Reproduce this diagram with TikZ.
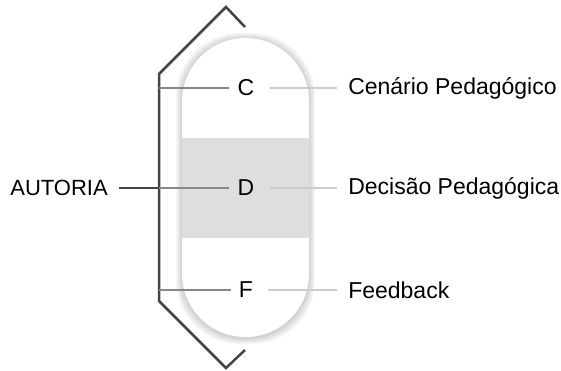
\documentclass[tikz,border=0pt]{standalone}
\usepackage{fontspec}
\setmainfont{Liberation Sans}
\definecolor{bracketgray}{HTML}{444444}
\definecolor{midgray}{HTML}{888888}
\definecolor{lightgray}{HTML}{CCCCCC}
\definecolor{bandgray}{HTML}{DEDEDE}

\begin{document}
\def\capr{63.5pt}

\begin{tikzpicture}[x=1pt,y=-1pt,line width=2.5pt]
    \tikzstyle{capsule}=[rounded corners=\capr]
    \tikzstyle{letter}=[inner xsep=7pt,inner ysep=2pt,font=\fontsize{23}{27}\selectfont]
    \tikzstyle{label}=[anchor=west,inner xsep=10pt,inner ysep=2pt,font=\fontsize{23}{27}\selectfont]
    \tikzstyle{bracket}=[draw=bracketgray,line join=miter]
    \tikzstyle{leftline}=[draw=midgray]
    \tikzstyle{rightline}=[draw=lightgray,shorten <=7pt]

    \useasboundingbox (0,0) rectangle (561,371);

    % soft shadow of the capsule
    \foreach \s in {1,...,6}
        \fill[black,opacity=0.03,capsule] (182-\s,38-\s+1) rectangle (309+\s,337+\s+1);
    % the capsule and its middle band
    \fill[white,capsule] (182,38) rectangle (309,337);
    \fill[bandgray] (182,138) rectangle (309,238);

    % the bracket
    \path[bracket] (245,27) -- (226,7) -- (159,74) -- (159,301) -- (226,368) -- (245,350);

    % the letters inside the capsule
    \node[letter] (C) at (246,88) {C};
    \node[letter] (D) at (246,188) {D};
    \node[letter] (F) at (246,290) {F};

    % the labels on the right
    \node[label] (cenario) at (337,88) {Cenário Pedagógico};
    \node[label] (decisao) at (337,188) {Decisão Pedagógica};
    \node[label] (feedback) at (337,290) {Feedback};

    % the label on the left
    \node[anchor=east,inner xsep=10pt,font=\fontsize{22}{26}\selectfont] (autoria) at (119,188) {AUTORIA};

    % where the lines meet the bracket
    \coordinate (bC) at (159,88);
    \coordinate (bD) at (159,188);
    \coordinate (bF) at (159,290);

    % connect the bracket with the letters and the letters with the labels
    \foreach \name/\lab in {C/cenario,D/decisao,F/feedback}
    {
        \path[leftline] (b\name) -- (\name);
        \path[rightline] (\name) -- (\lab);
    }
    \path[bracket] (autoria) -- (bD);
\end{tikzpicture}
\end{document}
